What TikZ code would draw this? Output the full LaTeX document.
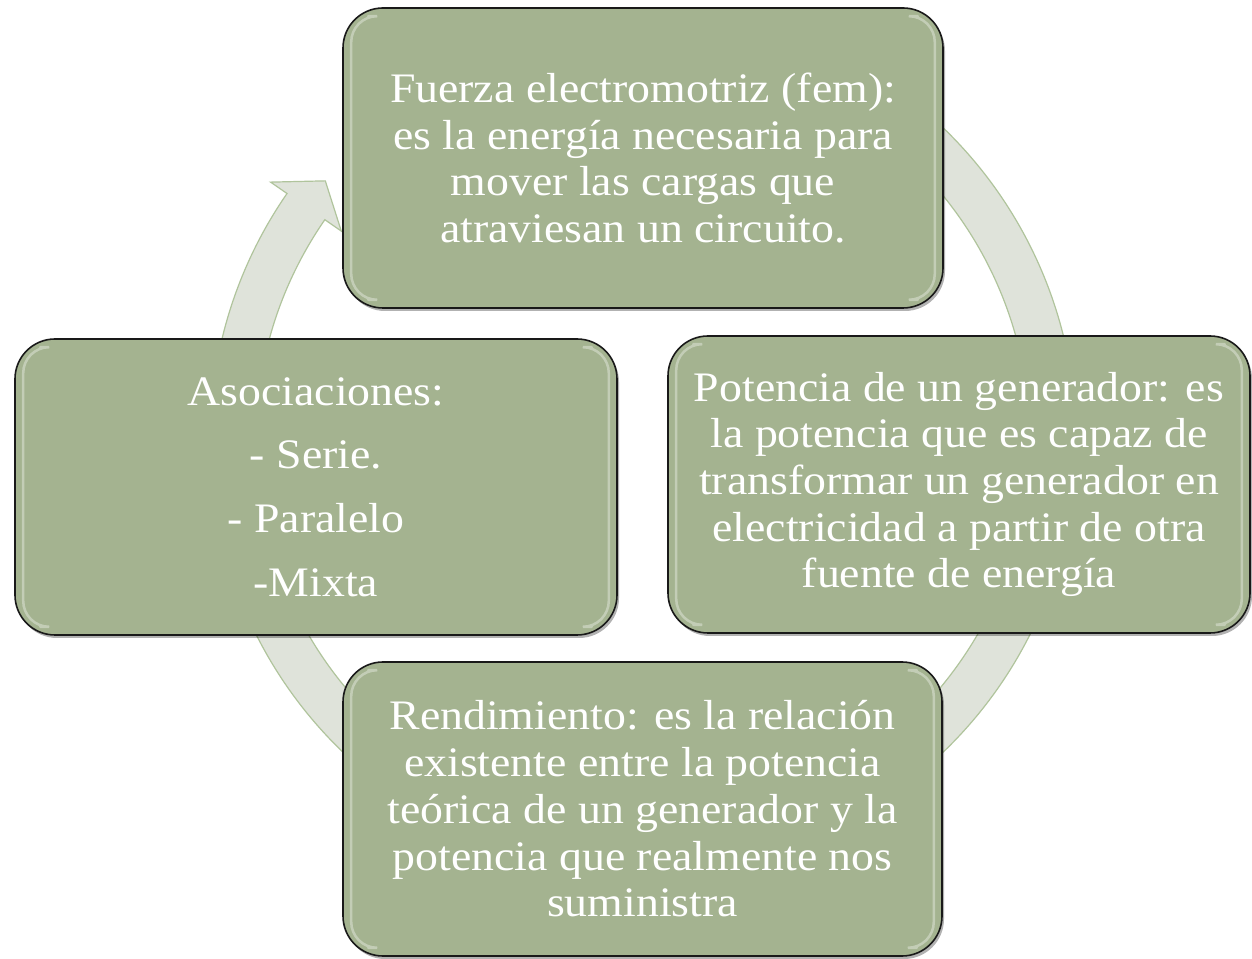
\documentclass[tikz,border=0pt]{standalone}
\usepackage{fontspec}
\setmainfont[FakeStretch=1.09]{Liberation Serif}
\usetikzlibrary{shadows,calc}
\definecolor{boxgreen}{RGB}{164,179,144}
\definecolor{boxline}{RGB}{25,25,25}
\definecolor{ringfill}{RGB}{223,227,218}
\definecolor{ringline}{RGB}{176,196,156}
\newcommand\boxgloss[1]{%
  \draw[glossline, rounded corners=26pt] ([shift={(26pt,-9pt)}]#1.north west) -- ([shift={(9pt,-9pt)}]#1.north west) -- ([shift={(9pt,9pt)}]#1.south west) -- ([shift={(26pt,9pt)}]#1.south west);
  \draw[glossline, rounded corners=26pt] ([shift={(-26pt,-9pt)}]#1.north east) -- ([shift={(-9pt,-9pt)}]#1.north east) -- ([shift={(-9pt,9pt)}]#1.south east) -- ([shift={(-26pt,9pt)}]#1.south east);}
\begin{document}
\begin{tikzpicture}[x=1pt,y=1pt,
  box/.style={rectangle, rounded corners=40pt, fill=boxgreen, draw=boxline, line width=1.6pt,
    text=white, align=center, inner sep=0pt,
    font=\fontsize{42}{46.7}\selectfont,
    drop shadow={shadow xshift=2pt, shadow yshift=-3pt, opacity=0.3, fill=black}},
  ringstyle/.style={fill=ringfill, draw=ringline, line width=1.2pt, line join=miter},
  glossline/.style={draw=white, opacity=0.35, line width=2.5pt, line cap=round}]
\useasboundingbox (0,0) rectangle (1252,958);
\fill[white] (0,0) rectangle (1252,958);
% circular arrow behind the boxes
\begin{scope}[shift={(643,518)}]
  \draw[ringstyle] (145.3:453) -- (140.8:410) -- (145.3:367) -- (145.3:387)
    arc[start angle=145.3, end angle=440, radius=387] -- (440:433)
    arc[start angle=440, end angle=145.3, radius=433] -- cycle;
\end{scope}
% boxes
\node[box, minimum width=600pt, minimum height=300pt] (fem) at (643,800)
  {Fuerza electromotriz (fem):\\ es la energía necesaria para\\ mover las cargas que\\ atraviesan un circuito.};
\node[box, minimum width=582pt, minimum height=297pt] (pot) at (959,473.5)
  {Potencia de un generador: es\\ la potencia que es capaz de\\ transformar un generador en\\ electricidad a partir de otra\\ fuente de energía};
\node[box, minimum width=599pt, minimum height=294pt] (rend) at (642.5,149)
  {Rendimiento: es la relación\\ existente entre la potencia\\ teórica de un generador y la\\ potencia que realmente nos\\ suministra};
\node[box, minimum width=602pt, minimum height=296pt] (asoc) at (316,471)
  {Asociaciones:\\[17pt] - Serie.\\[17pt] - Paralelo\\[17pt] -Mixta};
\boxgloss{fem}
\boxgloss{pot}
\boxgloss{rend}
\boxgloss{asoc}
\end{tikzpicture}
\end{document}
